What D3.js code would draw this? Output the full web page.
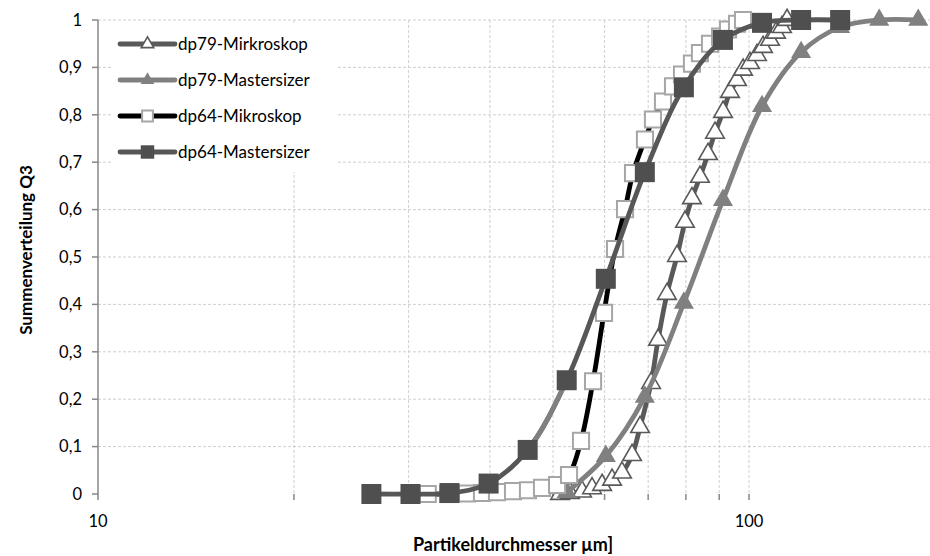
<!DOCTYPE html>
<html>
<head>
<meta charset="utf-8">
<script src="https://cdn.jsdelivr.net/npm/d3@7"></script>
<style>
  body { margin: 0; background: #fff; }
  svg text { font-family: Lato, "Open Sans", sans-serif; fill: #000; }
</style>
</head>
<body>
<div id="chart"></div>
<script>
// ---- data ----
const dp79MikX = [51.26, 53.09, 55.41, 57.40, 59.47, 61.61, 63.82, 66.12, 68.02, 70.72, 72.49, 74.82, 77.52, 79.74, 81.73, 84.08, 86.50, 88.67, 91.23, 93.50, 95.85, 97.91, 100.35, 102.87, 105.08, 107.72, 110.03, 112.38, 114.39];
const dp79MikY = [0.000, 0.002, 0.005, 0.012, 0.019, 0.030, 0.045, 0.082, 0.141, 0.234, 0.325, 0.422, 0.502, 0.574, 0.624, 0.669, 0.717, 0.762, 0.806, 0.848, 0.873, 0.895, 0.909, 0.926, 0.943, 0.958, 0.973, 0.985, 1.000];

const dp79MasX = [52.48, 60.26, 69.18, 79.43, 91.20, 104.71, 120.23, 138.04, 158.49, 181.97];
const dp79MasY = [0.004, 0.080, 0.205, 0.403, 0.620, 0.818, 0.932, 0.985, 1.000, 1.000];

const dp64MikX = [32.1, 34.5, 36.88, 38.89, 41.01, 43.40, 45.76, 48.09, 50.72, 52.91, 55.20, 57.60, 59.88, 62.26, 64.50, 66.35, 69.21, 71.20, 73.77, 76.43, 78.90, 81.73, 84.08, 87.12, 90.27, 92.85, 95.85, 97.91];
const dp64MikY = [0.000, 0.000, 0.001, 0.002, 0.004, 0.006, 0.008, 0.013, 0.019, 0.040, 0.112, 0.238, 0.382, 0.517, 0.601, 0.677, 0.748, 0.790, 0.828, 0.860, 0.885, 0.908, 0.930, 0.950, 0.965, 0.980, 0.992, 1.000];

const dp64MasX = [26.30, 30.20, 34.67, 39.81, 45.71, 52.48, 60.26, 69.18, 79.43, 91.20, 104.71, 120.23, 138.04];
const dp64MasY = [0.000, 0.000, 0.002, 0.022, 0.093, 0.240, 0.454, 0.679, 0.858, 0.958, 0.994, 1.000, 1.000];

const yTicks = [0, 0.1, 0.2, 0.3, 0.4, 0.5, 0.6, 0.7, 0.8, 0.9, 1];
const xMajor = [10, 100];
const xMinor = [20, 30, 40, 50, 60, 70, 80, 90];

const seriesNames = ['dp79-Mirkroskop', 'dp79-Mastersizer', 'dp64-Mikroskop', 'dp64-Mastersizer'];

const W = 930, H = 556;
const svg = d3.select('#chart').append('svg').attr('width', W).attr('height', H);

const x = d3.scaleLog().domain([10, 1000]).range([98, 1400]);
const y = d3.scaleLinear().domain([0, 1]).range([494, 20]);

const grid = svg.append('g');
grid.selectAll('.hg').data(yTicks.filter(d => d > 0)).enter().append('line')
  .attr('x1', 98).attr('x2', W).attr('y1', d => y(d)).attr('y2', d => y(d))
  .attr('stroke', '#cfcfcf').attr('stroke-width', 1).attr('stroke-dasharray', '3,2');
grid.selectAll('.vg').data(xMinor.concat([100])).enter().append('line')
  .attr('x1', d => x(d)).attr('x2', d => x(d)).attr('y1', 20).attr('y2', 494)
  .attr('stroke', '#cfcfcf').attr('stroke-width', 1).attr('stroke-dasharray', '3,2');

// axes
const axisCol = '#878787';
svg.append('line').attr('x1', 98).attr('x2', 98).attr('y1', 20).attr('y2', 494)
  .attr('stroke', axisCol).attr('stroke-width', 1.5);
svg.selectAll('.yt').data(yTicks).enter().append('line')
  .attr('x1', 92).attr('x2', 98).attr('y1', d => y(d)).attr('y2', d => y(d))
  .attr('stroke', axisCol).attr('stroke-width', 1.5);
svg.selectAll('.yl').data(yTicks).enter().append('text')
  .attr('x', 82).attr('y', d => y(d)).attr('dy', '0.35em').attr('text-anchor', 'end')
  .style('font-size', '16.5px')
  .text(d => d3.format('.1f')(d).replace('.', ',').replace(',0', ''));

svg.selectAll('.xt').data(xMajor.concat(xMinor)).enter().append('line')
  .attr('x1', d => x(d)).attr('x2', d => x(d)).attr('y1', 494).attr('y2', 500)
  .attr('stroke', axisCol).attr('stroke-width', 1.5);
svg.selectAll('.xl').data(xMajor).enter().append('text')
  .attr('x', d => x(d)).attr('y', 521).attr('dy', '0.35em').attr('text-anchor', 'middle')
  .style('font-size', '16.5px').text(d => d);

svg.append('text').attr('x', 513).attr('y', 545).attr('dy', '0.35em').attr('text-anchor', 'middle')
  .style('font-size', '18px').style('font-weight', 'bold').text('Partikeldurchmesser µm]');
svg.append('text').attr('transform', 'translate(26,250) rotate(-90)').attr('dy', '0.35em')
  .attr('text-anchor', 'middle').style('font-size', '17px').style('font-weight', 'bold')
  .text('Summenverteilung Q3');

// series
const line = d3.line().x(d => x(d[0])).y(d => y(d[1])).curve(d3.curveCatmullRom.alpha(0.5));
const zip = (a, b) => a.map((v, i) => [v, b[i]]);

const series = [
  { name: seriesNames[0], pts: zip(dp79MikX, dp79MikY), stroke: '#595959', sym: d3.symbolTriangle, size: 150, fill: '#fff', mStroke: '#595959', mw: 1.6 },
  { name: seriesNames[1], pts: zip(dp79MasX, dp79MasY), stroke: '#808080', sym: d3.symbolTriangle, size: 175, fill: '#808080', mStroke: '#808080', mw: 0 },
  { name: seriesNames[2], pts: zip(dp64MikX, dp64MikY), stroke: '#000000', sym: d3.symbolSquare, size: 260, fill: '#fff', mStroke: '#a6a6a6', mw: 2 },
  { name: seriesNames[3], pts: zip(dp64MasX, dp64MasY), stroke: '#575757', sym: d3.symbolSquare, size: 400, fill: '#4f4f4f', mStroke: '#4f4f4f', mw: 0 }
];

// one lighter segment on the dp64-Mastersizer curve
svg.append('clipPath').attr('id', 'segClip').append('rect')
  .attr('x', x(dp64MasX[4])).attr('y', 0).attr('width', x(dp64MasX[5]) - x(dp64MasX[4])).attr('height', H);

series.forEach(s => {
  const g = svg.append('g');
  g.append('path').attr('d', line(s.pts)).attr('fill', 'none')
    .attr('stroke', s.stroke).attr('stroke-width', 4.8).attr('stroke-linejoin', 'round');
  if (s.name === 'dp64-Mastersizer') {
    g.append('path').attr('d', line(s.pts)).attr('fill', 'none').attr('clip-path', 'url(#segClip)')
      .attr('stroke', '#808080').attr('stroke-width', 4.8);
  }
  g.selectAll('path.m').data(s.pts).enter().append('path').attr('class', 'm')
    .attr('transform', d => `translate(${x(d[0])},${y(d[1])})`)
    .attr('d', d3.symbol().type(s.sym).size(s.size))
    .attr('fill', s.fill).attr('stroke', s.mStroke).attr('stroke-width', s.mw);
});

// legend
const lg = svg.append('g');
lg.append('rect').attr('x', 113).attr('y', 25).attr('width', 225).attr('height', 147).attr('fill', '#fff');
series.forEach((s, i) => {
  const ly = 44 + i * 36;
  lg.append('line').attr('x1', 120).attr('x2', 175).attr('y1', ly).attr('y2', ly)
    .attr('stroke', s.stroke).attr('stroke-width', 4.8).attr('stroke-linecap', 'round');
  lg.append('path').attr('transform', `translate(147.5,${ly})`)
    .attr('d', d3.symbol().type(s.sym).size(s.size * 0.45))
    .attr('fill', s.fill).attr('stroke', s.mStroke).attr('stroke-width', s.mw);
  lg.append('text').attr('x', 178).attr('y', ly).attr('dy', '0.35em')
    .style('font-size', '17px').text(s.name);
});
</script>
</body>
</html>
